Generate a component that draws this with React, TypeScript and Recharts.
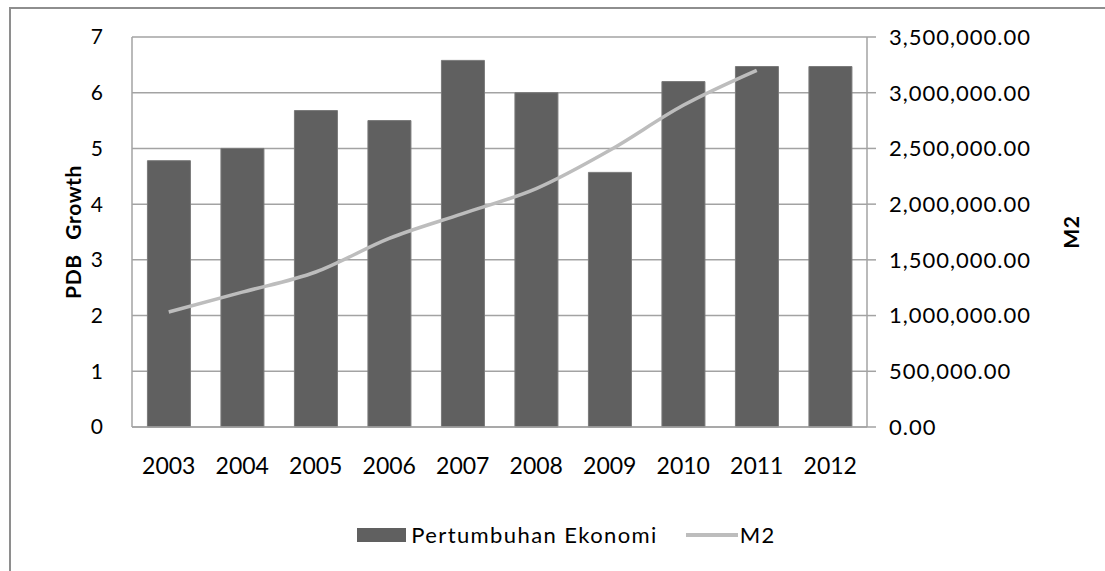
import { ComposedChart, Bar, Line, XAxis, YAxis, CartesianGrid, Legend } from 'recharts';

const years = ['2003', '2004', '2005', '2006', '2007', '2008', '2009', '2010', '2011', '2012'];
const pdbGrowth = [4.78, 5.0, 5.68, 5.5, 6.58, 6.0, 4.57, 6.2, 6.47, 6.47];
const m2 = [1032000, 1210000, 1391000, 1693000, 1915000, 2139000, 2483000, 2887000, 3201000, null];

const leftTicks = [0, 1, 2, 3, 4, 5, 6, 7];
const rightTicks = [0, 500000, 1000000, 1500000, 2000000, 2500000, 3000000, 3500000];

const data = years.map((year, i) => ({ year, growth: pdbGrowth[i], m2: m2[i] }));

const FONT = 'Lato, "DejaVu Sans", sans-serif';
const GRID = '#a3a3a3';
const BAR = '#606060';
const LINE = '#bdbdbd';

const fmtMoney = (v: number) =>
  v.toLocaleString('en-US', { minimumFractionDigits: 2, maximumFractionDigits: 2 });

const axisTitle = (text: string, cx: number) => (props: any) => {
  const vb = props.viewBox || {};
  const cy = vb.y + vb.height / 2;
  return (
    <text
      x={cx}
      y={cy}
      transform={`rotate(-90, ${cx}, ${cy})`}
      textAnchor="middle"
      dominantBaseline="central"
      fontFamily={FONT}
      fontSize={21}
      fontWeight="bold"
      fill="#000"
      style={{ wordSpacing: '9px', letterSpacing: '0.6px' }}
    >
      {text}
    </text>
  );
};

const LegendBox = () => (
  <div
    style={{
      display: 'flex',
      justifyContent: 'center',
      alignItems: 'center',
      fontFamily: FONT,
      fontSize: 22,
      letterSpacing: '1.4px',
      color: '#000',
      paddingLeft: 28,
    }}
  >
    <span style={{ display: 'inline-block', width: 49, height: 14, background: BAR, marginRight: 5 }} />
    <span>Pertumbuhan Ekonomi</span>
    <span style={{ display: 'inline-block', width: 52, height: 4, background: LINE, marginLeft: 28, marginRight: 2 }} />
    <span>M2</span>
  </div>
);

export default function App() {
  return (
    <div style={{ position: 'absolute', left: 0, top: 0, width: 1105, height: 571, overflow: 'hidden', background: '#fff' }}>
      <div
        style={{
          position: 'absolute',
          left: 9,
          top: 7,
          width: 1110,
          height: 580,
          border: '2px solid #8e8e8e',
          boxSizing: 'border-box',
        }}
      />
      <div style={{ position: 'absolute', left: 0, top: 0 }}>
        <ComposedChart
          width={1105}
          height={571}
          data={data}
          margin={{ top: 37, right: 10, bottom: 20, left: 10 }}
          barCategoryGap="21%"
        >
          <CartesianGrid vertical={false} stroke={GRID} strokeWidth={1.5} yAxisId="left" />
          <XAxis
            dataKey="year"
            height={94}
            axisLine={{ stroke: GRID, strokeWidth: 1.5 }}
            tickLine={false}
            tickMargin={25}
            tick={{ fontFamily: FONT, fontSize: 23, fill: '#000' }}
          />
          <YAxis
            yAxisId="left"
            domain={[0, 7]}
            ticks={leftTicks}
            width={122}
            axisLine={{ stroke: GRID, strokeWidth: 1.5 }}
            tickLine={false}
            tickMargin={23}
            tick={{ fontFamily: FONT, fontSize: 21, fill: '#000' }}
            label={{ content: axisTitle('PDB Growth', 72) }}
          />
          <YAxis
            yAxisId="right"
            orientation="right"
            domain={[0, 3500000]}
            ticks={rightTicks}
            width={228}
            axisLine={{ stroke: GRID, strokeWidth: 1.5 }}
            tickLine={{ stroke: GRID, strokeWidth: 1.5 }}
            tickSize={9}
            tickMargin={13}
            tickFormatter={fmtMoney}
            tick={{ fontFamily: FONT, fontSize: 22, fill: '#000', style: { letterSpacing: '1px' } }}
            label={{ content: axisTitle('M2', 1070) }}
          />
          <Legend verticalAlign="bottom" height={30} content={() => <LegendBox />} />
          <Bar
            yAxisId="left"
            dataKey="growth"
            name="Pertumbuhan Ekonomi"
            fill={BAR}
            stroke="#7a7a7a"
            strokeWidth={1}
            isAnimationActive={false}
          />
          <Line
            yAxisId="right"
            type="monotone"
            dataKey="m2"
            name="M2"
            stroke={LINE}
            strokeWidth={3.5}
            dot={false}
            activeDot={false}
            isAnimationActive={false}
          />
        </ComposedChart>
      </div>
    </div>
  );
}
